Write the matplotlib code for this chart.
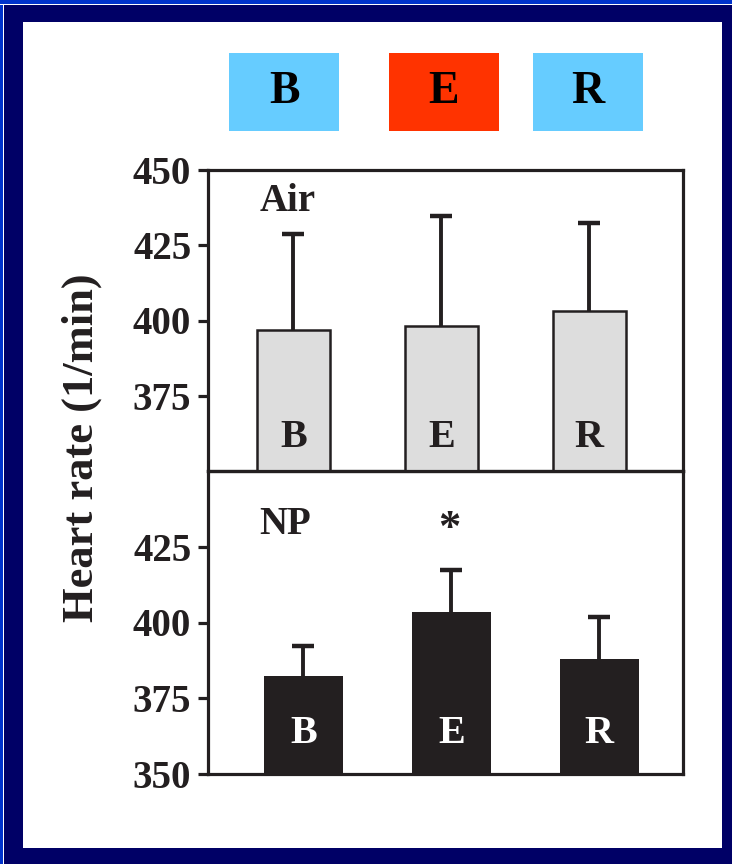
import numpy as np
import matplotlib
matplotlib.use('Agg')
import matplotlib.pyplot as plt
from matplotlib.patches import Rectangle

plt.rcParams['font.family'] = ['Liberation Serif', 'DejaVu Serif']
plt.rcParams['font.weight'] = 'bold'

groups = ['B', 'E', 'R']
air_mean = [397.0, 398.2, 403.2]
air_sd = [31.9, 36.5, 29.1]
np_mean = [382.5, 403.5, 388.1]
np_sd = [9.7, 13.8, 13.7]
yticks_air = [375, 400, 425, 450]
yticks_np = [350, 375, 400, 425]

W, H = 732, 864
ink = '#231f20'

def fr(x0, y0, x1, y1):
    # pixel box -> figure fraction [left, bottom, width, height]
    return [x0 / W, 1 - y1 / H, (x1 - x0) / W, (y1 - y0) / H]

fig = plt.figure(figsize=(W / 100, H / 100), dpi=100)
fig.patch.set_facecolor('#000066')

# frame: blue line top/left, navy border, white panel
for (x0, y0, x1, y1), c in [((0, 0, W, 4), '#0033cc'), ((0, 0, 3, H), '#0033cc'),
                             ((0, 4, W, 5), 'white'), ((3, 4, 4, H), 'white'),
                             ((23, 22, 722, 848), 'white')]:
    l, b, w, h = fr(x0, y0, x1, y1)
    fig.add_artist(Rectangle((l, b), w, h, transform=fig.transFigure,
                             facecolor=c, edgecolor='none', zorder=0))

# header boxes
box_colors = ['#66ccff', '#ff3300', '#66ccff']
box_x = [229, 389, 533]
for g, c, bx in zip(groups, box_colors, box_x):
    l, b, w, h = fr(bx, 53, bx + 110, 131)
    fig.add_artist(Rectangle((l, b), w, h, transform=fig.transFigure,
                             facecolor=c, edgecolor='none', zorder=1))
    fig.text(l + w / 2, b + h / 2, g, ha='center', va='center',
             fontsize=33, color='black', fontweight='bold')

ax1 = fig.add_axes(fr(208, 170, 683, 471))
ax2 = fig.add_axes(fr(208, 471, 683, 774))
x = np.arange(len(groups))


def upper_err(ax, mean, sd, cap=0.075):
    top = np.array(mean) + np.array(sd)
    ax.vlines(x, mean, top, color=ink, linewidth=2.8, zorder=2)
    ax.hlines(top, x - cap, x + cap, color=ink, linewidth=3.2, zorder=2)


ax1.bar(x, np.array(air_mean) - 350, bottom=350, width=0.49, color='#dddddd',
        edgecolor=ink, linewidth=1.8, zorder=3)
upper_err(ax1, air_mean, air_sd)
ax1.set_xlim(-0.576, 2.633)
ax1.set_ylim(350, 450)
ax1.set_yticks(yticks_air)
for xi, g in zip(x, groups):
    ax1.text(xi, 361, g, ha='center', va='center', fontsize=29, color=ink)
ax1.text(-0.04, 439.5, 'Air', ha='center', va='center', fontsize=28, color=ink)

ax2.bar(x, np.array(np_mean) - 350, bottom=350, width=0.53, color=ink,
        edgecolor='none', zorder=3)
upper_err(ax2, np_mean, np_sd)
ax2.set_xlim(-0.644, 2.565)
ax2.set_ylim(350, 450)
ax2.set_yticks(yticks_np)
for xi, g in zip(x, groups):
    ax2.text(xi, 363.5, g, ha='center', va='center', fontsize=29, color='white')
ax2.text(-0.12, 432.5, 'NP', ha='center', va='center', fontsize=28, color=ink)
ax2.text(0.984, 431, '*', ha='center', va='center', fontsize=32, color=ink)

for ax in (ax1, ax2):
    ax.set_xticks([])
    ax.set_facecolor('none')
    for s in ax.spines.values():
        s.set_linewidth(2.3)
        s.set_color(ink)
    ax.tick_params(axis='y', direction='out', length=7, width=2.3, color=ink,
                   labelsize=28, labelcolor=ink, pad=5)

fig.text(82 / W, 1 - 448 / H, 'Heart rate (1/min)', rotation=90, ha='center',
         va='center', fontsize=32, color=ink)

fig.savefig('out.png', dpi=100, facecolor=fig.get_facecolor())
